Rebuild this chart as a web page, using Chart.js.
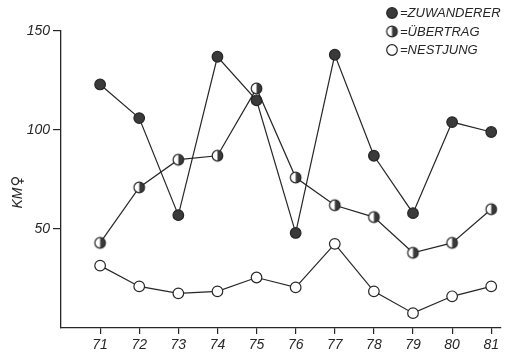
<!DOCTYPE html>
<html>
<head>
<meta charset="utf-8">
<script src="https://cdn.jsdelivr.net/npm/chart.js@4/dist/chart.umd.min.js"></script>
<style>
  html, body { margin: 0; padding: 0; background: #fff; }
  #wrap { width: 513px; height: 356px; }
</style>
</head>
<body>
<div id="wrap"><canvas id="c" width="513" height="356"></canvas></div>
<script>
// Years (19xx) on the x axis
const years = [71, 72, 73, 74, 75, 76, 77, 78, 79, 80, 81];
// KM per female, by status
const zuwanderer = [123, 106, 57, 137, 115, 48, 138, 87, 58, 104, 99];
const uebertrag  = [43, 71, 85, 87, 121, 76, 62, 56, 38, 43, 60];
const nestjung   = [31.5, 21, 17.5, 18.5, 25.5, 20.5, 42.5, 18.5, 7.5, 16, 21];
const yTicks = [50, 100, 150];
const seriesNames = ['ZUWANDERER', 'ÜBERTRAG', 'NESTJUNG'];

const INK = '#262626';
const FILL = '#3a3a3a';
const FAMILY = '"Liberation Sans", Arial, sans-serif';

// Marker whose right half is filled
function halfMarker(r) {
  const s = Math.ceil(r * 2 + 4);
  const cv = document.createElement('canvas');
  cv.width = s; cv.height = s;
  const g = cv.getContext('2d');
  const c = s / 2;
  g.beginPath(); g.arc(c, c, r, 0, Math.PI * 2);
  g.fillStyle = '#fff'; g.fill();
  g.beginPath(); g.arc(c, c, r, -Math.PI / 2, Math.PI / 2); g.closePath();
  g.fillStyle = FILL; g.fill();
  g.beginPath(); g.arc(c, c, r, 0, Math.PI * 2);
  g.lineWidth = 1.2; g.strokeStyle = INK; g.stroke();
  return cv;
}
const HALF = halfMarker(5.3);

function pts(arr) { return arr.map((v, i) => ({ x: years[i], y: v })); }

const common = {
  borderColor: INK, borderWidth: 1.2, tension: 0,
  pointRadius: 5.3, pointBorderWidth: 1.2, pointBorderColor: INK,
  pointHoverRadius: 5.3
};

// Legend in the upper right and the rotated y title
const annotations = {
  id: 'annotations',
  afterDraw(chart) {
    const g = chart.ctx;
    g.save();
    const lx = 392, rows = [13, 31.5, 50];
    rows.forEach((y, i) => {
      if (i === 1) {
        g.drawImage(HALF, lx - HALF.width / 2, y - HALF.height / 2);
      } else {
        g.beginPath(); g.arc(lx, y, 5.3, 0, Math.PI * 2);
        g.fillStyle = i === 0 ? FILL : '#fff'; g.fill();
        g.lineWidth = 1.2; g.strokeStyle = INK; g.stroke();
      }
      g.fillStyle = INK;
      g.font = 'italic 13px ' + FAMILY;
      g.textBaseline = 'middle'; g.textAlign = 'left';
      g.fillText('=' + seriesNames[i], lx + 8, y + 0.5);
    });
    // y title: "KM" followed by the female sign, rotated
    g.translate(18, 192);
    g.rotate(-Math.PI / 2);
    g.textBaseline = 'middle'; g.textAlign = 'left';
    g.font = 'italic 14px ' + FAMILY;
    const w1 = g.measureText('KM').width;
    g.font = '15px "DejaVu Sans", sans-serif';
    const w2 = g.measureText('♀').width;
    const x0 = -(w1 + w2 + 1) / 2;
    g.font = 'italic 14px ' + FAMILY;
    g.fillText('KM', x0, 0);
    g.font = '15px "DejaVu Sans", sans-serif';
    g.fillText('♀', x0 + w1 + 1, 0);
    g.restore();
  }
};

new Chart(document.getElementById('c'), {
  type: 'line',
  data: {
    datasets: [
      Object.assign({ label: seriesNames[2], data: pts(nestjung), pointBackgroundColor: '#fff', pointStyle: 'circle' }, common),
      Object.assign({ label: seriesNames[1], data: pts(uebertrag), pointStyle: HALF }, common),
      Object.assign({ label: seriesNames[0], data: pts(zuwanderer), pointBackgroundColor: FILL, pointStyle: 'circle' }, common)
    ]
  },
  options: {
    responsive: false,
    animation: false,
    events: [],
    layout: { padding: { top: 31, right: 12, left: 0, bottom: 0 } },
    plugins: { legend: { display: false }, tooltip: { enabled: false } },
    scales: {
      x: {
        type: 'linear', min: 70, max: 81.25,
        afterBuildTicks(s) { s.ticks = years.map(v => ({ value: v })); },
        afterFit(s) { s.height = 28; },
        border: { color: INK, width: 1.3 },
        grid: { drawOnChartArea: false, drawTicks: true, tickLength: 6, color: INK, lineWidth: 1.2 },
        ticks: { color: INK, font: { family: FAMILY, size: 14, style: 'italic' }, padding: 3, maxRotation: 0, autoSkip: false }
      },
      y: {
        min: 0, max: 150,
        afterBuildTicks(s) { s.ticks = [0].concat(yTicks).map(v => ({ value: v })); },
        afterFit(s) { s.width = 61; },
        border: { color: INK, width: 1.3 },
        grid: { drawOnChartArea: false, drawTicks: true, tickLength: 8, lineWidth: 1.2,
                color: c => (c.tick && c.tick.value === 0) ? 'rgba(0,0,0,0)' : INK },
        ticks: { color: INK, font: { family: FAMILY, size: 14, style: 'italic' }, padding: 3,
                 callback: v => v === 0 ? '' : String(v) }
      }
    }
  },
  plugins: [annotations]
});
</script>
</body>
</html>
